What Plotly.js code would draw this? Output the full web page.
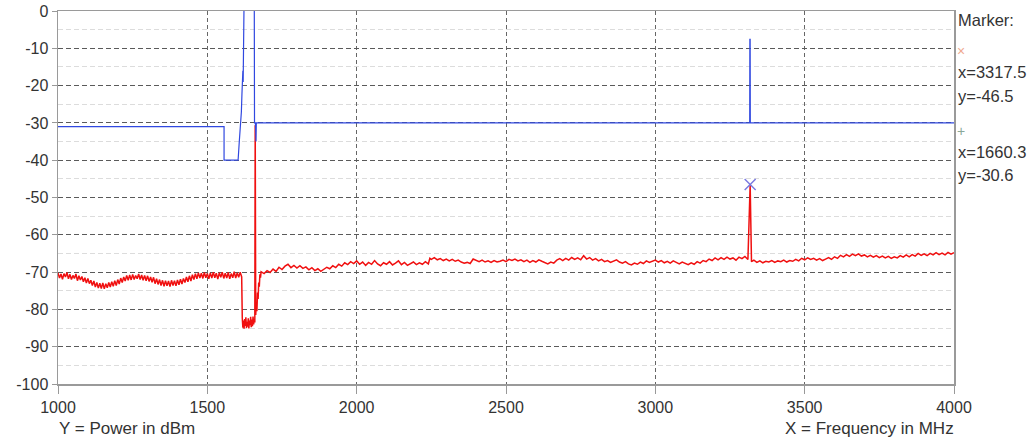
<!DOCTYPE html>
<html>
<head>
<meta charset="utf-8">
<script src="https://cdn.plot.ly/plotly-3.0.1.min.js"></script>
<style>html,body{margin:0;padding:0;background:#fff;}#chart{width:1032px;height:441px;}</style>
</head>
<body>
<div id="chart"></div>
<script>
// ---- Data ----
// Red trace: measured spectrum (dBm) below the notch
const redFreqLow = [1000,1005,1010,1015,1020,1025,1030,1035,1040,1045,1050,1055,1060,1065,1070,1075,1080,1085,1090,1095,1100,1105,1110,1115,1120,1125,1130,1135,1140,1145,1150,1155,1160,1165,1170,1175,1180,1185,1190,1195,1200,1205,1210,1215,1220,1225,1230,1235,1240,1245,1250,1255,1260,1265,1270,1275,1280,1285,1290,1295,1300,1305,1310,1315,1320,1325,1330,1335,1340,1345,1350,1355,1360,1365,1370,1375,1380,1385,1390,1395,1400,1405,1410,1415,1420,1425,1430,1435,1440,1445,1450,1455,1460,1465,1470,1475,1480,1485,1490,1495,1500,1505,1510,1515,1520,1525,1530,1535,1540,1545,1550,1555,1560,1565,1570,1575,1580,1585,1590,1595,1600,1605,1610,1615];
const redPowLow = [-70.2,-71.6,-70.5,-71.9,-70.4,-71.3,-70.1,-71.8,-70.6,-72.0,-70.9,-71.7,-70.5,-72.3,-71.0,-72.1,-71.2,-72.6,-71.5,-72.9,-71.7,-73.1,-72.2,-73.6,-72.4,-74.0,-72.8,-74.3,-73.0,-74.4,-72.9,-74.5,-73.1,-74.2,-72.8,-74.0,-72.6,-73.8,-72.3,-73.6,-72.0,-73.2,-71.6,-72.8,-71.3,-72.4,-70.9,-72.2,-70.8,-72.1,-70.6,-72.0,-70.9,-71.8,-70.5,-72.0,-70.8,-72.2,-70.9,-72.3,-71.0,-72.5,-71.3,-72.7,-71.4,-73.1,-71.8,-73.3,-72.0,-73.6,-72.2,-73.8,-72.3,-73.7,-72.4,-73.9,-72.2,-73.6,-72.3,-73.7,-72.1,-73.4,-71.9,-73.2,-71.7,-72.8,-71.3,-72.6,-71.0,-72.4,-70.7,-72.0,-70.4,-71.8,-70.2,-71.6,-70.3,-71.7,-70.1,-71.5,-70.4,-71.8,-70.2,-71.6,-70.0,-71.5,-70.3,-71.9,-70.2,-71.4,-70.0,-71.7,-70.3,-71.6,-70.1,-71.8,-70.4,-71.5,-69.9,-71.6,-70.2,-71.4,-70.0,-71.3];
// Red trace: notch region and the 1660.3 MHz peak
const redFreqNotch = [1617,1619,1621,1623,1625,1627,1629,1631,1633,1635,1637,1639,1641,1643,1645,1647,1649,1651,1653,1655,1657,1659,1660.3,1662,1664,1666,1668,1670,1672,1674,1676,1678,1680];
const redPowNotch = [-82.3,-84.9,-83.0,-85.2,-82.6,-84.4,-82.1,-85.0,-83.3,-84.6,-82.4,-85.1,-83.0,-84.2,-82.0,-84.8,-82.7,-84.5,-81.9,-84.0,-82.5,-83.5,-30.6,-81.5,-78.0,-80.5,-75.5,-77.2,-72.8,-73.9,-70.6,-71.5,-69.9];
// Red trace: above the notch, incl. the 3317.5 MHz spur
const redFreqHigh = [1690,1700,1710,1720,1730,1740,1750,1760,1770,1780,1790,1800,1810,1820,1830,1840,1850,1860,1870,1880,1890,1900,1910,1920,1930,1940,1950,1960,1970,1980,1990,2000,2010,2020,2030,2040,2050,2060,2070,2080,2090,2100,2110,2120,2130,2140,2150,2160,2170,2180,2190,2200,2210,2220,2230,2240,2245,2250,2260,2270,2280,2290,2300,2310,2320,2330,2340,2350,2360,2370,2380,2390,2400,2410,2420,2430,2440,2450,2460,2470,2480,2490,2500,2510,2520,2530,2540,2550,2560,2570,2580,2590,2600,2610,2620,2630,2640,2650,2660,2670,2680,2690,2700,2710,2720,2730,2740,2750,2760,2770,2780,2790,2800,2810,2820,2830,2840,2850,2860,2870,2880,2890,2900,2910,2920,2930,2940,2950,2960,2970,2980,2990,3000,3010,3020,3030,3040,3050,3060,3070,3080,3090,3100,3110,3120,3130,3140,3150,3160,3170,3180,3190,3200,3210,3220,3230,3240,3250,3260,3270,3280,3290,3300,3310,3317.5,3322,3330,3340,3350,3360,3370,3380,3390,3400,3410,3420,3430,3440,3450,3460,3470,3480,3490,3500,3510,3520,3530,3540,3550,3560,3570,3580,3590,3600,3610,3620,3630,3640,3650,3660,3670,3680,3690,3700,3710,3720,3730,3740,3750,3760,3770,3780,3790,3800,3810,3820,3830,3840,3850,3860,3870,3880,3890,3900,3910,3920,3930,3940,3950,3960,3970,3980,3990,4000];
const redPowHigh = [-70.4,-69.6,-70.1,-69.2,-69.8,-68.7,-69.3,-68.4,-67.9,-68.8,-68.2,-68.9,-68.3,-69.0,-68.6,-69.4,-68.8,-69.6,-69.1,-69.8,-69.2,-68.7,-69.1,-68.3,-68.8,-67.9,-68.4,-67.5,-68.0,-67.2,-67.7,-67.0,-67.9,-67.3,-68.2,-67.4,-67.9,-66.9,-67.8,-68.3,-67.5,-67.9,-67.2,-68.1,-67.6,-67.0,-68.0,-67.4,-68.2,-67.7,-67.3,-68.0,-67.5,-67.9,-67.2,-67.8,-66.3,-66.6,-66.1,-66.7,-66.4,-66.9,-66.5,-67.0,-66.6,-67.1,-66.8,-67.3,-67.6,-67.4,-67.7,-66.5,-66.9,-67.2,-66.8,-67.3,-67.0,-67.4,-66.9,-67.3,-67.1,-66.8,-67.2,-66.6,-66.9,-66.5,-67.0,-66.7,-67.2,-66.8,-67.4,-66.9,-67.3,-66.7,-67.1,-67.5,-67.8,-67.3,-67.6,-66.8,-66.4,-66.9,-66.3,-66.8,-66.1,-66.6,-66.2,-66.7,-65.6,-66.5,-66.1,-66.8,-66.4,-67.0,-66.6,-67.2,-66.9,-67.4,-67.0,-66.7,-67.3,-67.6,-67.2,-67.8,-68.1,-67.6,-67.9,-67.3,-67.7,-67.0,-67.4,-67.1,-66.8,-67.3,-66.9,-67.5,-67.1,-67.6,-67.0,-67.4,-67.8,-67.3,-67.7,-68.0,-67.5,-67.9,-67.2,-67.6,-66.9,-67.2,-66.5,-66.9,-66.2,-66.7,-66.1,-66.6,-66.0,-66.5,-66.2,-66.8,-66.0,-66.4,-65.8,-66.6,-46.5,-67.2,-66.8,-67.4,-67.0,-67.5,-67.1,-67.3,-66.9,-67.4,-67.0,-67.2,-66.8,-67.3,-66.9,-67.1,-66.6,-67.0,-66.3,-66.7,-66.2,-66.6,-66.3,-66.8,-66.4,-66.9,-66.5,-66.1,-66.6,-65.9,-66.3,-65.5,-65.9,-65.3,-65.8,-65.2,-65.6,-65.1,-65.7,-65.4,-65.9,-65.5,-66.0,-65.6,-66.1,-65.7,-66.2,-65.8,-66.3,-65.9,-66.2,-65.6,-66.0,-65.4,-65.9,-65.3,-65.7,-65.0,-65.5,-65.1,-65.6,-65.0,-65.4,-64.8,-65.3,-64.9,-65.4,-64.7,-65.2,-64.8];

// Blue trace: reference / limit curve (dBm); values above 0 run off the top
const blueFreq = [1000,1556,1556,1603,1607,1612,1614,1616,1617,1618,1619,1620,1621,1622,1623,1624,1657,1658,1661,1663,1664,3316,3316.5,3317.5,3318,4000];
const bluePow = [-31,-31,-40,-40,-35,-30,-27,-22,-17,-21,-16,-19,-14,-16,-5,10,10,-30,-30,-35,-30,-30,-7.6,-7.6,-30,-30];

// Marker readout
const markerFreq = [3317.5];
const markerPow = [-46.5];
const markerLabels = ['x=3317.5','y=-46.5','x=1660.3','y=-30.6'];

// Axis ticks
const xTicks = [1000,1500,2000,2500,3000,3500,4000];
const yTicks = [0,-10,-20,-30,-40,-50,-60,-70,-80,-90,-100];

// ---- Build traces ----
const redFreq = redFreqLow.concat(redFreqNotch, redFreqHigh);
const redPow = redPowLow.concat(redPowNotch, redPowHigh);

const FONT = 'Arial, "Liberation Sans", sans-serif';

const traces = [
  {x: redFreq, y: redPow, type: 'scatter', mode: 'lines',
   line: {color: '#f01010', width: 1.5}, hoverinfo: 'skip'},
  {x: blueFreq, y: bluePow, type: 'scatter', mode: 'lines',
   line: {color: '#3048e0', width: 1.2}, hoverinfo: 'skip'},
  {x: markerFreq, y: markerPow, type: 'scatter', mode: 'markers',
   marker: {symbol: 'x-thin-open', size: 11, color: '#7a7ae0', line: {color: '#7a7ae0', width: 1.5}},
   hoverinfo: 'skip'}
];

const txt = (s, x, y, xa, size, color) => ({
  text: s, xref: 'paper', yref: 'paper', x: x, y: y, xanchor: xa, yanchor: 'middle',
  showarrow: false, borderpad: 0, font: {family: FONT, size: size || 16.5, color: color || '#333'}
});

const layout = {
  width: 1032, height: 441,
  margin: {l: 58, r: 78, t: 11, b: 57, pad: 0},
  paper_bgcolor: '#ffffff', plot_bgcolor: '#ffffff',
  showlegend: false,
  font: {family: FONT, size: 16, color: '#333'},
  xaxis: {
    range: [1000, 4000], tickvals: xTicks, ticktext: xTicks.map(String),
    showgrid: true, gridcolor: '#666', griddash: '4px,3px', gridwidth: 1,
    zeroline: false, showline: true, linecolor: '#9a9a9a', linewidth: 1.5, mirror: true,
    ticks: 'outside', ticklen: 8, tickcolor: '#999', tickwidth: 1,
    tickfont: {family: FONT, size: 16, color: '#333'}
  },
  yaxis: {
    range: [-100, 0], tickvals: yTicks, ticktext: yTicks.map(String),
    showgrid: true, gridcolor: '#5a5a5a', griddash: '5px,3px', gridwidth: 1,
    minor: {dtick: 5, showgrid: true, gridcolor: '#dcdcdc', gridwidth: 1, ticks: ''},
    zeroline: false, showline: true, linecolor: '#9a9a9a', linewidth: 1.5, mirror: true,
    ticks: 'outside', ticklen: 5, tickcolor: '#999', tickwidth: 1,
    tickfont: {family: FONT, size: 16, color: '#333'}
  },
  annotations: [
    txt('Y = Power in dBm', 0, -0.118, 'left', 17),
    txt('X = Frequency in MHz', 1.001, -0.118, 'right', 17),
    txt('Marker:', 1.003, 0.975, 'left', 16.5),
    txt('×', 1.0078, 0.892, 'center', 14, '#f0a890'),
    txt(markerLabels[0], 1.003, 0.836, 'left', 16.5),
    txt(markerLabels[1], 1.003, 0.772, 'left', 16.5),
    txt('+', 1.0078, 0.678, 'center', 14, '#8aa898'),
    txt(markerLabels[2], 1.003, 0.623, 'left', 16.5),
    txt(markerLabels[3], 1.003, 0.561, 'left', 16.5)
  ]
};

Plotly.newPlot('chart', traces, layout, {staticPlot: true, displayModeBar: false});
</script>
</body>
</html>
